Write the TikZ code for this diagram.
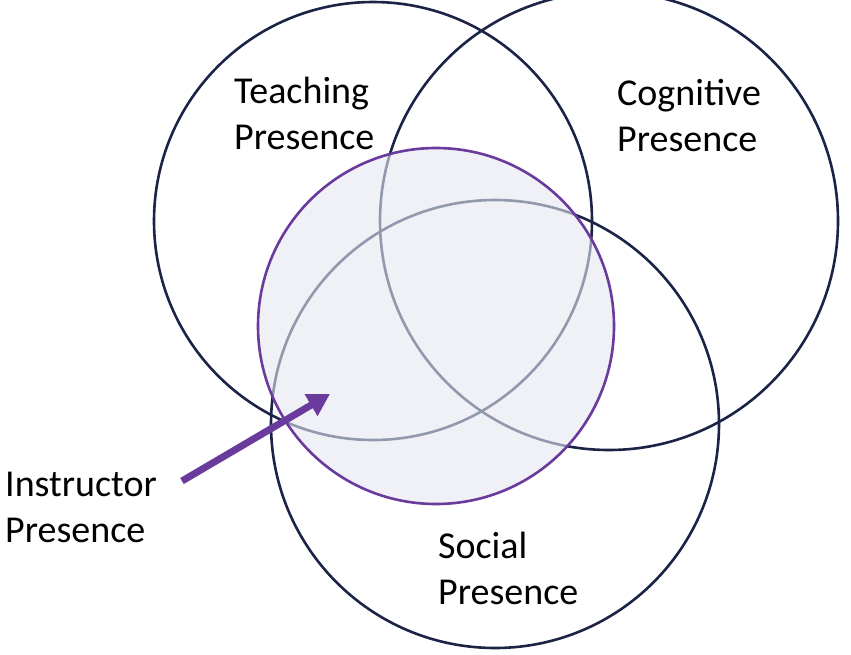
\documentclass[tikz,border=0pt]{standalone}
\usepackage{fontspec}
\setmainfont{Carlito}
\usetikzlibrary{arrows.meta}
\definecolor{ringblue}{HTML}{1B2447}
\definecolor{ringpurple}{HTML}{6A3A9C}
\definecolor{innerfill}{HTML}{E4E8F1}
\begin{document}
\begin{tikzpicture}[x=1pt,y=-1pt,
  ring/.style={draw=ringblue, line width=2.6pt},
  label/.style={align=left, anchor=west, inner sep=0pt, font=\fontsize{38}{46}\selectfont, text=black}]
  \useasboundingbox (0,0) rectangle (851,654);

  % Presence circles
  \coordinate (teach) at (373,221);
  \coordinate (cogn) at (609,221);
  \coordinate (soc) at (495,424);
  \coordinate (instr) at (436,326);

  \draw[ring] (teach) circle (219);
  \draw[ring] (cogn) circle (229);
  \draw[ring] (soc) circle (224);

  % Instructor presence overlay
  \fill[innerfill, fill opacity=0.6] (instr) circle (178);
  \draw[ringpurple, line width=2.6pt] (instr) circle (178);

  % Labels
  \node[label] (teachlbl) at (234,113) {Teaching\\Presence};
  \node[label] (cognlbl) at (617,115) {Cognitive\\Presence};
  \node[label] (soclbl) at (438,568) {Social\\Presence};
  \node[label] (instrlbl) at (5,507) {Instructor\\Presence};

  % Arrow
  \coordinate (tail) at (182,481);
  \coordinate (tip) at (330,394);
  \draw[ringpurple, line width=7pt, -{Triangle[length=22pt,width=24pt]}] (tail) -- (tip);
\end{tikzpicture}
\end{document}
